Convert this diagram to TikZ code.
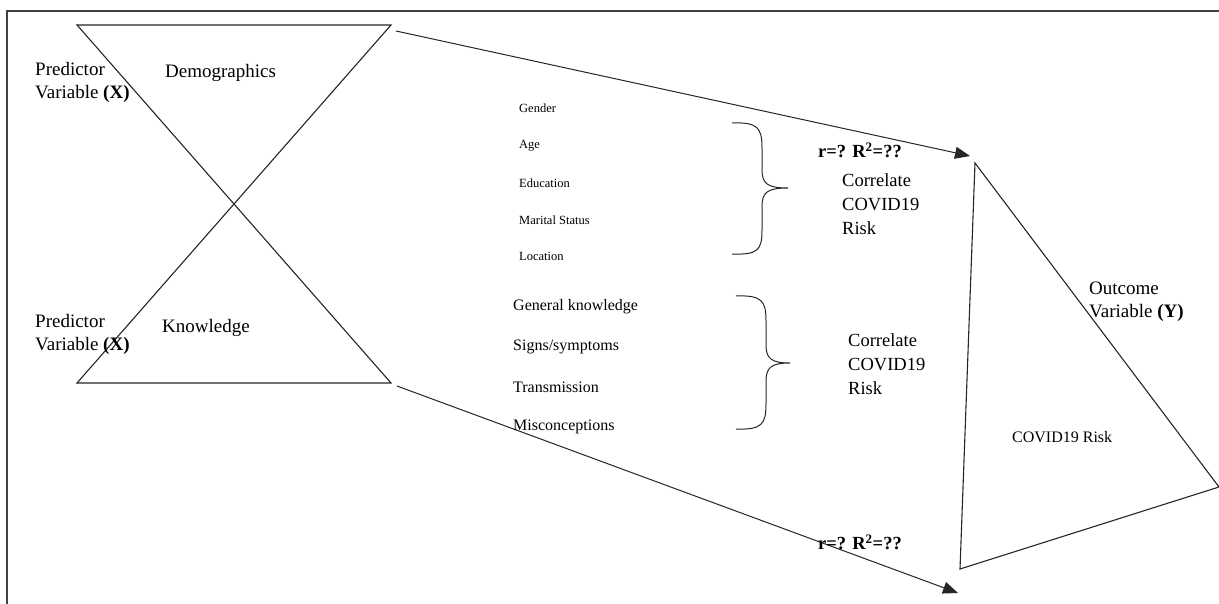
\documentclass[tikz,border=0pt]{standalone}
\usepackage{fontspec}
\setmainfont{Liberation Serif}
\usetikzlibrary{arrows.meta}
\begin{document}
\begin{tikzpicture}[x=1pt,y=-1pt,
  shapeline/.style={draw=black!85,line width=1.1pt,line join=miter},
  conn/.style={draw=black!85,line width=1pt,-{Triangle[length=15pt,width=12pt]}},
  bracestyle/.style={draw=black!85,line width=1pt},
  lbl/.style={inner sep=0pt,anchor=west,align=left,font=\fontsize{19}{23}\selectfont},
  small/.style={inner sep=0pt,anchor=west,font=\fontsize{12.5}{15}\selectfont},
  mid/.style={inner sep=0pt,anchor=west,font=\fontsize{16}{19}\selectfont},
  corr/.style={inner sep=0pt,anchor=west,align=left,font=\fontsize{18.5}{24}\selectfont},
  rlbl/.style={inner sep=0pt,anchor=west,font=\bfseries\fontsize{18.5}{22}\selectfont}]
\useasboundingbox (0,0) rectangle (1219,604);
\fill[white] (0,0) rectangle (1219,604);
% frame (top and left visible)
\draw[black!75,line width=1.5pt] (7,604) -- (7,11) -- (1219,11);
% hourglass
\coordinate (tl) at (77,25);
\coordinate (tr) at (391,25);
\coordinate (cx) at (234,204);
\coordinate (bl) at (77,383);
\coordinate (br) at (391,383);
\draw[shapeline] (tl) -- (tr) -- (cx) -- cycle;
\draw[shapeline] (cx) -- (bl) -- (br) -- cycle;
% outcome triangle
\coordinate (ot) at (975,163);
\coordinate (ob) at (960,569);
\coordinate (or) at (1219,487);
\draw[shapeline] (ot) -- (or) -- (ob) -- cycle;
% arrows
\coordinate (a1s) at (396,31);
\coordinate (a1e) at (970,156);
\coordinate (a2s) at (397,386);
\coordinate (a2e) at (958,593);
\draw[conn] (a1s) -- (a1e);
\draw[conn] (a2s) -- (a2e);
% labels
\node[lbl] (p1) at (35,82.5) {Predictor\\Variable \textbf{(X)}};
\node[lbl] (demo) at (165,73) {Demographics};
\node[lbl] (p2) at (35,334) {Predictor\\Variable \textbf{(X)}};
\node[lbl] (know) at (162,328) {Knowledge};
% list 1
\node[small] (g) at (519,108) {Gender};
\node[small] (age) at (519,146) {Age};
\node[small] (edu) at (519,183) {Education};
\node[small] (mar) at (519,220) {Marital Status};
\node[small] (loc) at (519,256) {Location};
% list 2
\node[mid] (gk) at (513,307) {General knowledge};
\node[mid] (ss) at (513,347) {Signs/symptoms};
\node[mid] (tr2) at (513,387) {Transmission};
\node[mid] (mis) at (513,427) {Misconceptions};
% braces
\draw[bracestyle] (732,123) .. controls (758,122) and (762,128) .. (762,148) -- (762,170)
  .. controls (762,184) and (768,188) .. (788,188)
  .. controls (768,188) and (762,192) .. (762,206) -- (762,230)
  .. controls (762,250) and (758,255) .. (732,254);
\draw[bracestyle] (736,296) .. controls (762,295) and (766,301) .. (766,321) -- (766,345)
  .. controls (766,359) and (772,363) .. (790,363)
  .. controls (772,363) and (766,367) .. (766,381) -- (766,404)
  .. controls (766,424) and (762,430) .. (736,429);
\node[corr] (c1) at (842,204) {Correlate\\COVID19\\Risk};
\node[corr] (c2) at (848,364) {Correlate\\COVID19\\Risk};
% r labels
\node[rlbl] (r1) at (818,150) {r=? R\textsuperscript{2}=??};
\node[rlbl] (r2) at (818,542) {r=? R\textsuperscript{2}=??};
% outcome
\node[lbl] (out) at (1089,302) {Outcome\\Variable \textbf{(Y)}};
\node[mid] (risk) at (1012,437) {COVID19 Risk};
\end{tikzpicture}
\end{document}
